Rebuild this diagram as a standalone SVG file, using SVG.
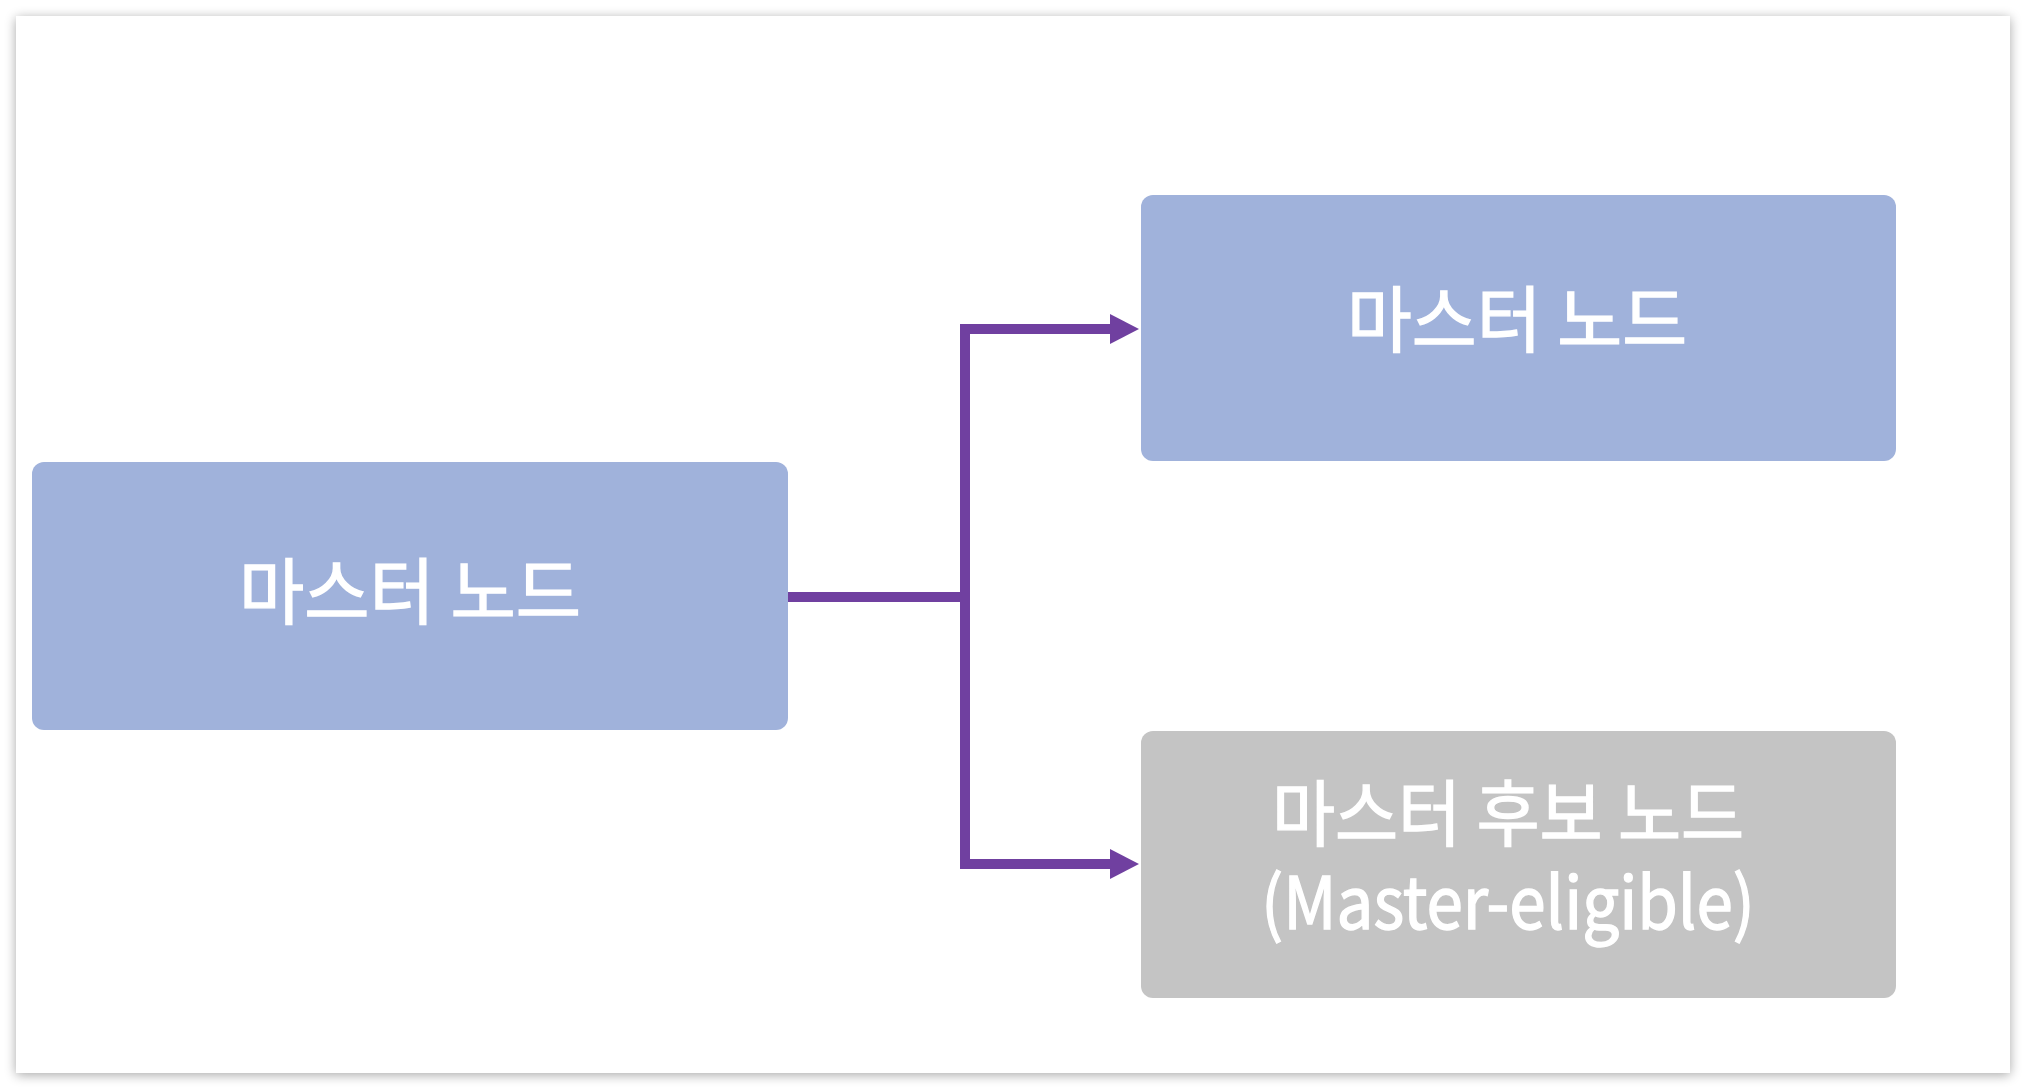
<svg xmlns="http://www.w3.org/2000/svg" width="2026" height="1090" viewBox="0 0 2026 1090">
  <style>
    .lbl { font-family: "Noto Sans CJK KR", "Noto Sans", sans-serif; fill: #ffffff; stroke: #ffffff; stroke-width: 1.4; text-anchor: middle; font-weight: 400; }
    .blue { fill: #a0b2db; }
    .gray { fill: #c4c4c4; }
    .conn { fill: none; stroke: #7040a0; stroke-width: 10; stroke-linejoin: miter; }
  </style>
  <defs>
    <filter id="shadow" x="-5%" y="-5%" width="110%" height="110%">
      <feGaussianBlur in="SourceAlpha" stdDeviation="6"/>
      <feOffset dx="0" dy="2" result="b"/>
      <feComponentTransfer><feFuncA type="linear" slope="0.35"/></feComponentTransfer>
      <feMerge><feMergeNode/><feMergeNode in="SourceGraphic"/></feMerge>
    </filter>
    <marker id="arrow" markerUnits="userSpaceOnUse" markerWidth="30" markerHeight="30" refX="0" refY="15" orient="auto">
      <path d="M0,0 L29,15 L0,30 Z" fill="#7040a0"/>
    </marker>
  </defs>
  <rect x="0" y="0" width="2026" height="1090" fill="#ffffff"/>
  <rect x="16" y="16" width="1994" height="1057" fill="#ffffff" filter="url(#shadow)"/>

  <g id="connectors">
    <path class="conn" d="M788,597 H965"/>
    <path class="conn" d="M965,597 V329 H1110" marker-end="url(#arrow)"/>
    <path class="conn" d="M965,597 V864 H1110" marker-end="url(#arrow)"/>
  </g>

  <g id="node-master-left">
    <rect class="blue" x="32" y="462" width="756" height="268" rx="12"/>
    <text class="lbl" x="410" y="618" font-size="72" textLength="342" lengthAdjust="spacingAndGlyphs">마스터 노드</text>
  </g>

  <g id="node-master-right">
    <rect class="blue" x="1141" y="195" width="755" height="266" rx="12"/>
    <text class="lbl" x="1517" y="346" font-size="72" textLength="340" lengthAdjust="spacingAndGlyphs">마스터 노드</text>
  </g>

  <g id="node-master-eligible">
    <rect class="gray" x="1141" y="731" width="755" height="267" rx="12"/>
    <text class="lbl" font-size="72"><tspan x="1508" y="840" textLength="472" lengthAdjust="spacingAndGlyphs">마스터 후보 노드</tspan><tspan x="1508" y="929" textLength="494" lengthAdjust="spacingAndGlyphs">(Master-eligible)</tspan></text>
  </g>
</svg>
